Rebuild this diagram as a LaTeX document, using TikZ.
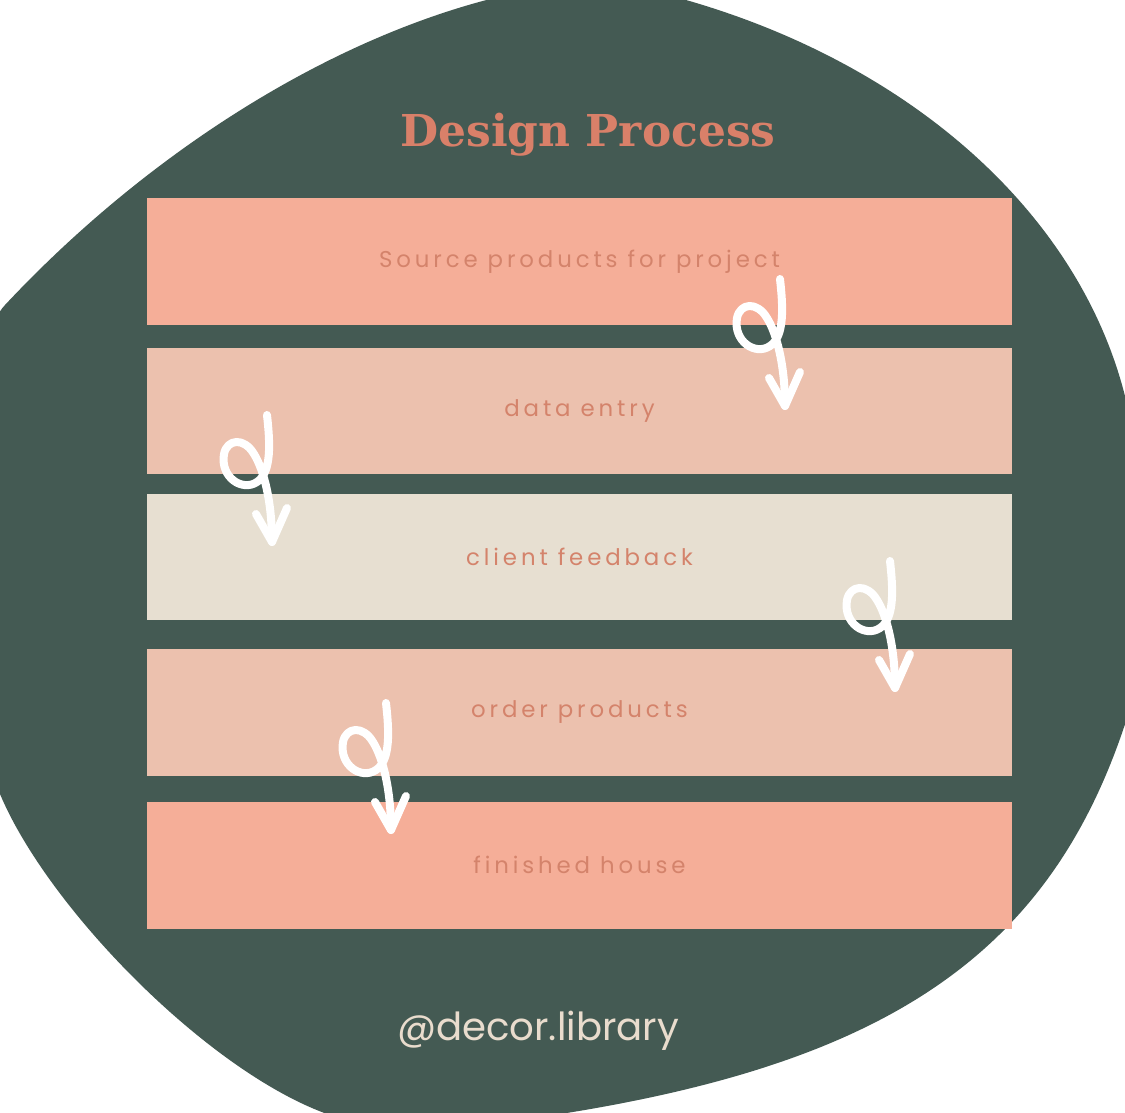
\documentclass[tikz,border=0pt]{standalone}
\usepackage{fontspec}
\newfontfamily\boxfont{Poppins}[LetterSpace=17]
\newfontfamily\titlefont{DejaVu Serif}
\newfontfamily\handlefont{Poppins}
\definecolor{blobgreen}{HTML}{445A53}
\definecolor{salmon}{HTML}{F5AE98}
\definecolor{peach}{HTML}{ECC1AE}
\definecolor{creambox}{HTML}{E7DFD1}
\definecolor{labeltxt}{HTML}{D4836B}
\definecolor{titletxt}{HTML}{D98069}
\definecolor{handletxt}{HTML}{E9DCCD}
\tikzset{
  stepbox/.style={rectangle, inner sep=0pt, minimum width=17.3cm, minimum height=2.54cm,
    text=labeltxt, font=\boxfont\fontsize{13}{15}\selectfont},
  loopstroke/.style={draw=white, line width=0.16cm, line cap=round, line join=round},
  looparrow/.pic={
    \draw[loopstroke] (-5,-127) .. controls (-2,-100) and (0,-70) .. (-15,-60)
      .. controls (-30,-50) and (-52,-65) .. (-48,-88)
      .. controls (-45,-103) and (-28,-105) .. (-18,-88)
      .. controls (-8,-72) and (0,-40) .. (0,0);
    \draw[loopstroke] (-16,-28) -- (0,0) -- (15,-34);
  }
}
\begin{document}
\begin{tikzpicture}[x=0.02cm, y=-0.02cm]
\useasboundingbox (0,0) rectangle (1125,1112);
\fill[white] (0,0) rectangle (1125,1112);
\begin{scope}
\clip (0,0) rectangle (1125,1112);
\fill[blobgreen] (-30,360) .. controls (-10,330) and (-2,312) .. (5,305)
  .. controls (150,150) and (340,30) .. (520,-8)
  .. controls (580,-28) and (640,-22) .. (686,0)
  .. controls (930,70) and (1110,240) .. (1135,450)
  .. controls (1160,550) and (1150,650) .. (1128,715)
  .. controls (1050,960) and (880,1070) .. (520,1120)
  .. controls (450,1135) and (380,1130) .. (330,1115)
  .. controls (200,1070) and (20,880) .. (-10,765)
  -- (-30,765) -- cycle;
\end{scope}

\node[text=titletxt, font=\titlefont\bfseries\fontsize{25}{30}\selectfont] (title) at (588,135) {Design Process};

\node[stepbox, fill=salmon]   (b1) at (579.5,261.5) {Source products for project};
\node[stepbox, fill=peach]    (b2) at (579.5,411)   {data entry};
\node[stepbox, fill=creambox] (b3) at (579.5,557)   {client feedback};
\node[stepbox, fill=peach]    (b4) at (579.5,712.5) {order products};
\node[stepbox, fill=salmon]   (b5) at (579.5,865)   {finished house};

\node[text=handletxt, font=\handlefont\fontsize{22}{26}\selectfont] (handle) at (538,1031) {@decor.library};

\coordinate (t1) at (785,406);
\coordinate (t2) at (272,542);
\coordinate (t3) at (895,688);
\coordinate (t4) at (391,830);
\pic at (t1) {looparrow};
\pic at (t2) {looparrow};
\pic at (t3) {looparrow};
\pic at (t4) {looparrow};
\end{tikzpicture}
\end{document}
